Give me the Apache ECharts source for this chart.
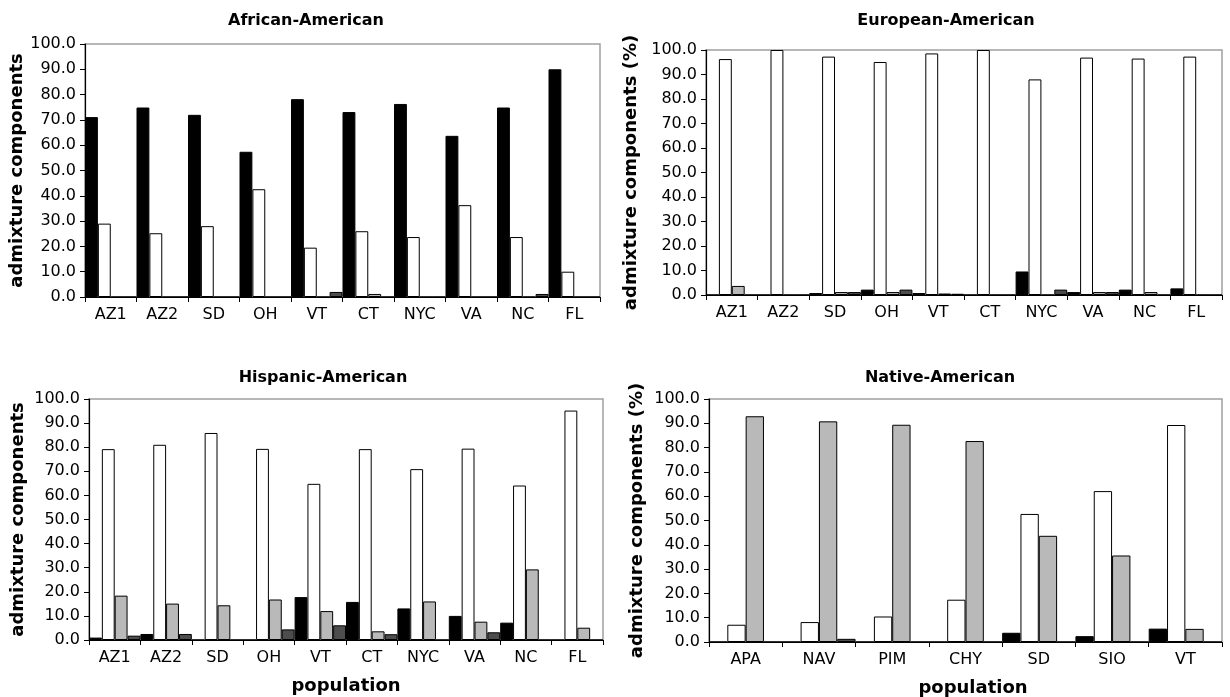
<!DOCTYPE html>
<html>
<head>
<meta charset="utf-8">
<script src="https://cdn.jsdelivr.net/npm/echarts@6/dist/echarts.min.js"></script>
<style>
html,body{margin:0;padding:0;background:#fff;}
#chart{width:1230px;height:697px;}
</style>
</head>
<body>
<div id="chart"></div>
<script>
// ---- data ----
const statePops = ['AZ1','AZ2','SD','OH','VT','CT','NYC','VA','NC','FL'];
const nativePops = ['APA','NAV','PIM','CHY','SD','SIO','VT'];
const yTicks = [0,10,20,30,40,50,60,70,80,90,100];

// African-American panel
const aaAfrican  = [71.1, 74.9, 72.0, 57.4, 78.2, 73.1, 76.3, 63.7, 74.9, 90.0];
const aaEuropean = [29.0, 25.2, 28.0, 42.6, 19.5, 26.0, 23.7, 36.3, 23.7, 10.0];
const aaNative   = [0, 0, 0, 0, 0, 1.2, 0, 0, 0, 0];
const aaAsian    = [0, 0, 0, 0, 2.0, 0, 0, 0, 1.2, 0];

// European-American panel
const eaAfrican  = [0, 0, 0.8, 2.2, 0.8, 0, 9.6, 1.2, 2.2, 2.7];
const eaEuropean = [96.3, 100, 97.3, 95.1, 98.6, 100, 88.0, 96.9, 96.5, 97.3];
const eaNative   = [3.7, 0, 1.2, 1.2, 0.6, 0, 0, 1.2, 1.2, 0];
const eaAsian    = [0, 0, 1.2, 2.2, 0.5, 0, 2.2, 1.2, 0, 0];

// Hispanic-American panel
const hsAfrican  = [1.0, 2.5, 0, 0, 17.8, 15.8, 13.1, 10.0, 7.2, 0];
const hsEuropean = [79.2, 81.0, 85.9, 79.3, 64.8, 79.2, 70.9, 79.4, 64.1, 95.2];
const hsNative   = [18.4, 15.1, 14.4, 16.8, 12.0, 3.6, 16.0, 7.6, 29.3, 5.1];
const hsAsian    = [1.8, 2.5, 0, 4.4, 6.1, 2.4, 0, 3.2, 0, 0];

// Native-American panel
const naAfrican  = [0, 0, 0, 0, 3.8, 2.4, 5.5];
const naEuropean = [7.1, 8.2, 10.5, 17.4, 52.7, 62.1, 89.3];
const naNative   = [92.9, 90.8, 89.4, 82.7, 43.7, 35.6, 5.4];
const naAsian    = [0, 1.3, 0, 0, 0, 0, 0];

// ---- styling ----
const FONT = 'DejaVu Sans';
const colors = ['#000000', '#ffffff', '#b9b9b9', '#4d4d4d'];

const panels = [
  {title:'African-American', cats: statePops, data:[aaAfrican, aaEuropean, aaNative, aaAsian],
   grid:{left:85, top:44, width:515, height:253}, tc:[306,13], yName:'admixture components', yGap:58, xName:'', xPad:0},
  {title:'European-American', cats: statePops, data:[eaAfrican, eaEuropean, eaNative, eaAsian],
   grid:{left:706, top:50, width:516, height:245}, tc:[946,13], yName:'admixture components (%)', yGap:66, xName:'', xPad:0},
  {title:'Hispanic-American', cats: statePops, data:[hsAfrican, hsEuropean, hsNative, hsAsian],
   grid:{left:89, top:399, width:514, height:241}, tc:[323,370], yName:'admixture components', yGap:62, xName:'population', xPad:0},
  {title:'Native-American', cats: nativePops, data:[naAfrican, naEuropean, naNative, naAsian],
   grid:{left:709, top:399, width:513, height:243}, tc:[940,370], yName:'admixture components (%)', yGap:63, xName:'population', xPad:15}
];

const option = {
  animation:false,
  backgroundColor:'#fff',
  title:[], grid:[], xAxis:[], yAxis:[], series:[]
};

panels.forEach((p, i) => {
  option.title.push({
    text:p.title, left:p.tc[0], top:p.tc[1], textAlign:'center', padding:0,
    textStyle:{fontFamily:FONT, fontSize:16, fontWeight:'bold', color:'#000'}
  });
  option.grid.push(Object.assign({show:true, borderColor:'#a0a0a0', borderWidth:1.5,
    backgroundColor:'transparent', containLabel:false, outerBoundsMode:'none'}, p.grid));
  option.xAxis.push({
    type:'category', gridIndex:i, data:p.cats,
    axisLine:{lineStyle:{color:'#000', width:1.2}},
    axisTick:{show:true, inside:false, length:5, lineStyle:{color:'#000'}},
    axisLabel:{fontFamily:FONT, fontSize:16, color:'#000', margin:10},
    name:p.xName, nameLocation:'middle', nameGap:37,
    nameTextStyle:{fontFamily:FONT, fontSize:18, fontWeight:'bold', color:'#000',
      padding:[0, 0, 0, p.xPad]},
    splitLine:{show:false}
  });
  option.yAxis.push({
    type:'value', gridIndex:i, min:0, max:100, interval:10,
    axisLine:{show:true, lineStyle:{color:'#000', width:1.2}},
    axisTick:{show:true, inside:false, length:5, lineStyle:{color:'#000'}},
    axisLabel:{fontFamily:FONT, fontSize:16, color:'#000', margin:9,
      formatter:v => yTicks.indexOf(v) >= 0 ? v.toFixed(1) : ''},
    splitLine:{show:false},
    name:p.yName, nameLocation:'middle', nameGap:p.yGap, nameRotate:90,
    nameTextStyle:{fontFamily:FONT, fontSize:18, fontWeight:'bold', color:'#000'}
  });
  p.data.forEach((arr, k) => {
    option.series.push({
      type:'bar', xAxisIndex:i, yAxisIndex:i, data:arr,
      barGap:'0%', barCategoryGap:'0%',
      itemStyle:{color:colors[k], borderColor:'#000', borderWidth:1},
      emphasis:{disabled:true}
    });
  });
});

const chart = echarts.init(document.getElementById('chart'), null, {renderer:'canvas'});
chart.setOption(option);
</script>
</body>
</html>
